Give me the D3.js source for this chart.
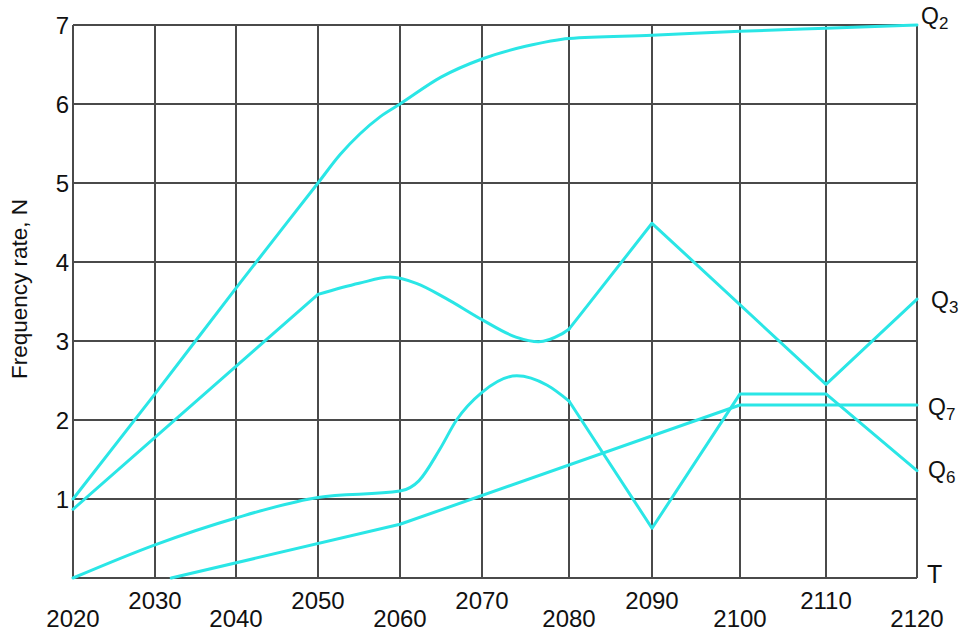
<!DOCTYPE HTML>
<html>

<head>
  <meta charset="utf-8">
  <title>Frequency rate</title>
  <script src="https://d3js.org/d3.v7.min.js"></script>
  <style>
    body { margin: 0; background: #fff; }
    text { font-family: "Liberation Sans", Arial, sans-serif; fill: #111; }
  </style>
</head>

<body>
  <script>
    // tick labels
    const years = [2020, 2030, 2040, 2050, 2060, 2070, 2080, 2090, 2100, 2110, 2120];
    const levels = [1, 2, 3, 4, 5, 6, 7];

    // Q2 - one smooth curve
    const q2 = [[2020, 1.0], [2030, 2.33], [2040, 3.67], [2050, 5.0], [2052.7, 5.36],
      [2055.1, 5.62], [2057.6, 5.84], [2060, 6.0], [2065, 6.34], [2070, 6.57],
      [2075, 6.73], [2080, 6.83], [2090, 6.87], [2100, 6.92], [2110, 6.96], [2120, 7.0]];

    // Q3 - straight rise, a wave, then a zigzag
    const q3Rise = [[2020, 0.87], [2050, 3.59]];
    const q3Wave = [[2050, 3.59], [2055, 3.73], [2058.8, 3.81], [2062, 3.73], [2065.6, 3.54],
      [2070, 3.27], [2073.9, 3.05], [2076.5, 2.99], [2079, 3.08], [2080, 3.15]];
    const q3Zigzag = [[2080, 3.15], [2090, 4.49], [2110, 2.45], [2120, 3.53]];

    // Q6 - smooth start, then straight pieces
    const q6Wave = [[2020, 0], [2030, 0.42], [2040, 0.76], [2050, 1.02], [2060, 1.1],
      [2062.3, 1.23], [2064.8, 1.62], [2066.9, 2.0], [2070, 2.35], [2074, 2.56],
      [2077.5, 2.44], [2080, 2.24]];
    const q6Zigzag = [[2080, 2.24], [2090, 0.63], [2100, 2.33], [2110, 2.33], [2120, 1.36]];

    // Q7 - straight pieces
    const q7 = [[2032, 0], [2060, 0.68], [2100, 2.19], [2120, 2.19]];

    const W = 960, H = 638;
    const svg = d3.select('body').append('svg')
      .attr('width', W)
      .attr('height', H);

    // grid columns in the original drawing are not quite evenly spaced
    const x = d3.scaleLinear()
      .domain(years)
      .range([73, 155, 236, 318, 400, 482, 569, 652, 740, 826, 917]);
    const y = d3.scaleLinear().domain([0, 7]).range([578, 25]);

    const grid = svg.append('g')
      .attr('stroke', '#4a4a4a')
      .attr('stroke-width', 1.3)
      .attr('shape-rendering', 'crispEdges');

    grid.selectAll('line.v')
      .data(years)
      .enter()
      .append('line')
      .attr('class', 'v')
      .attr('x1', d => x(d))
      .attr('x2', d => x(d))
      .attr('y1', y(0))
      .attr('y2', y(7));

    grid.selectAll('line.h')
      .data([0].concat(levels))
      .enter()
      .append('line')
      .attr('class', 'h')
      .attr('x1', x(2020))
      .attr('x2', x(2120))
      .attr('y1', d => y(d))
      .attr('y2', d => y(d));

    // y tick labels
    svg.append('g').selectAll('text')
      .data(levels)
      .enter()
      .append('text')
      .attr('x', x(2020) - 4)
      .attr('y', d => y(d))
      .attr('dy', '0.36em')
      .attr('text-anchor', 'end')
      .attr('font-size', 24)
      .text(d => d);

    // x tick labels, staggered up and down
    svg.append('g').selectAll('text')
      .data(years)
      .enter()
      .append('text')
      .attr('x', d => x(d))
      .attr('y', (d, i) => i % 2 === 0 ? 627 : 609)
      .attr('text-anchor', 'middle')
      .attr('font-size', 24)
      .text(d => d);

    svg.append('text')
      .attr('transform', 'translate(27,289) rotate(-90)')
      .attr('text-anchor', 'middle')
      .attr('font-size', 22.5)
      .text('Frequency rate, N');

    svg.append('text')
      .attr('x', 927)
      .attr('y', 583)
      .attr('font-size', 25)
      .text('T');

    // curves
    const smooth = d3.line()
      .x(d => x(d[0]))
      .y(d => y(d[1]))
      .curve(d3.curveMonotoneX);

    const straight = d3.line()
      .x(d => x(d[0]))
      .y(d => y(d[1]));

    const pieces = [
      [q2, smooth],
      [q3Rise, straight], [q3Wave, smooth], [q3Zigzag, straight],
      [q6Wave, smooth], [q6Zigzag, straight],
      [q7, straight],
    ];

    svg.append('g').selectAll('path')
      .data(pieces)
      .enter()
      .append('path')
      .attr('d', d => d[1](d[0]))
      .attr('fill', 'none')
      .attr('stroke', '#2ae6e6')
      .attr('stroke-width', 3)
      .attr('stroke-linejoin', 'round')
      .attr('stroke-linecap', 'round');

    // series labels at the right end
    const labels = [
      { name: 'Q', sub: '2', x: 921, y: 24 },
      { name: 'Q', sub: '3', x: 931, y: 308 },
      { name: 'Q', sub: '7', x: 928, y: 415 },
      { name: 'Q', sub: '6', x: 928, y: 478 },
    ];

    const lt = svg.append('g').selectAll('text')
      .data(labels)
      .enter()
      .append('text')
      .attr('x', d => d.x)
      .attr('y', d => d.y)
      .attr('font-size', 23);

    lt.append('tspan').text(d => d.name);
    lt.append('tspan')
      .attr('dx', 0)
      .attr('dy', 5)
      .attr('font-size', 17)
      .text(d => d.sub);
  </script>
</body>

</html>
